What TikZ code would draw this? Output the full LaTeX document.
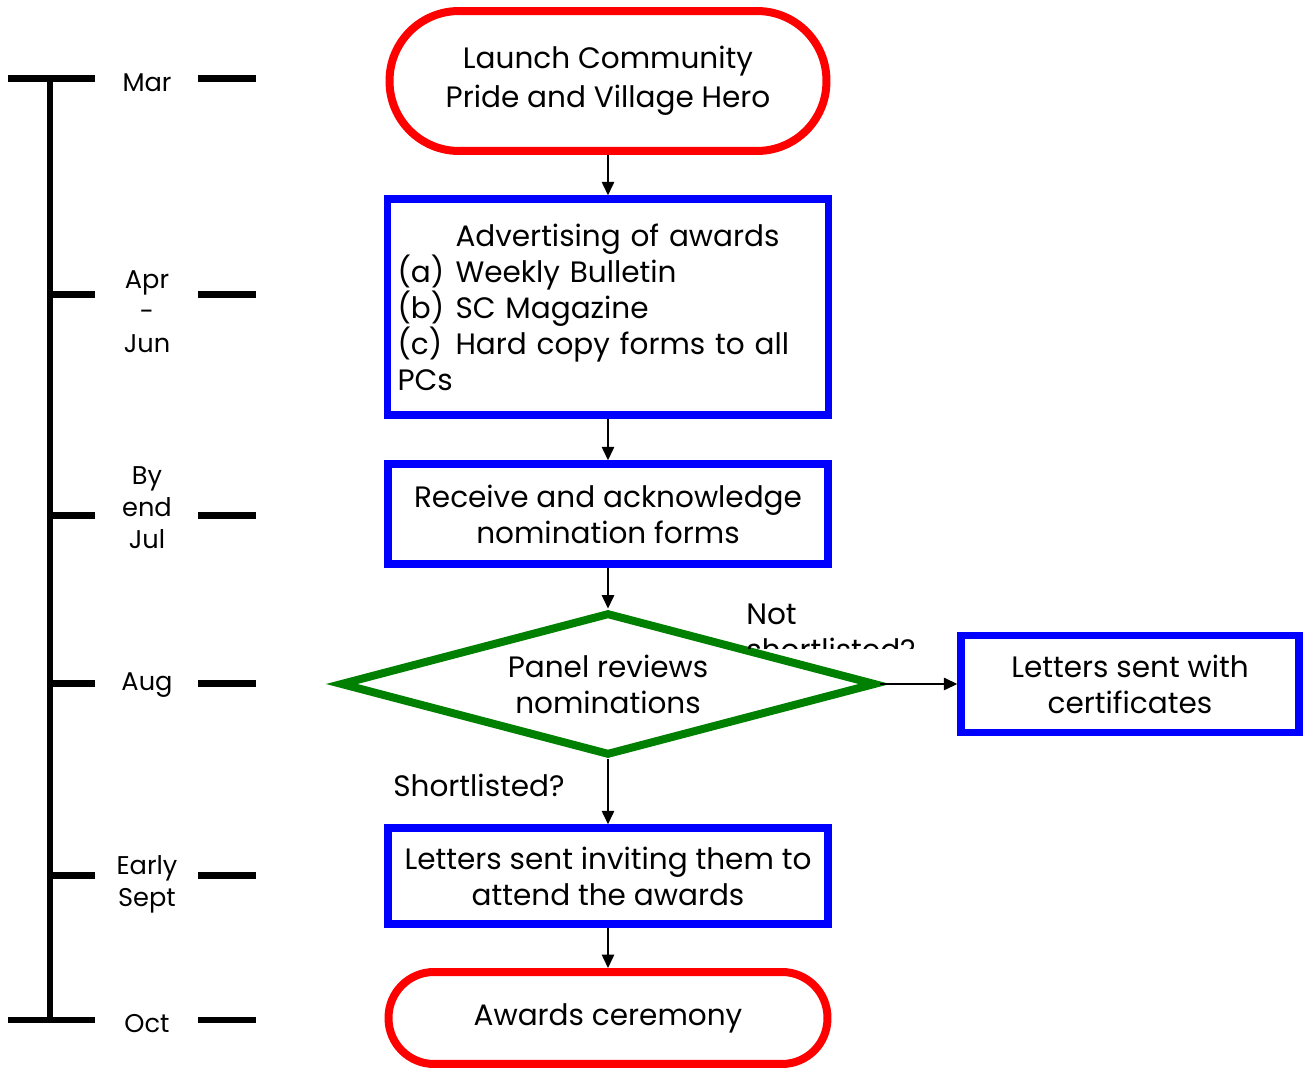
\documentclass[tikz,border=0pt]{standalone}
\usepackage{fontspec}
\setmainfont{Poppins}
\usetikzlibrary{shapes.geometric,arrows.meta}

\definecolor{termred}{RGB}{255,0,0}
\definecolor{boxblue}{RGB}{0,0,255}
\definecolor{panelgreen}{RGB}{0,128,0}

\newcommand\flowfont{\fontsize{16.8}{20.5}\selectfont}
\newcommand\monthfont{\fontsize{14.6}{18.2}\selectfont}
\newcommand\itemtag[1]{\makebox[1.16cm][l]{#1}}

\tikzset{
  terminal/.style={draw=termred, line width=0.16cm, fill=white, align=center, font=\flowfont},
  process/.style={draw=boxblue, line width=0.15cm, fill=white, align=center, font=\flowfont},
  decision/.style={diamond, draw=panelgreen, line width=0.16cm, fill=white, shape aspect=3.75,
    minimum width=10.72cm, minimum height=2.86cm, inner sep=0pt, align=center, font=\flowfont},
  month/.style={align=center, font=\monthfont, inner sep=0pt},
  flowline/.style={line width=0.03cm, -{Triangle[length=0.27cm,width=0.25cm]}},
  tick/.style={line width=0.14cm}
}

\begin{document}
\begin{tikzpicture}[x=0.02cm, y=-0.02cm]
    \useasboundingbox (0,0) rectangle (1306,1070);

    % Timeline
    \draw[tick] (50,79) -- (50,1020);
    \foreach \y in {79,1020}
        \draw[tick] (8,\y) -- (95,\y);
    \foreach \y in {295,516,684,876}
        \draw[tick] (50,\y) -- (95,\y);
    \foreach \y in {79,295,516,684,876,1020}
        \draw[tick] (198,\y) -- (256,\y);

    % Month labels
    \node[month] (mar) at (147,83) {Mar};
    \node[month] (aprjun) at (147,312) {Apr\\-\\Jun};
    \node[month] (jul) at (147,508) {By\\end\\Jul};
    \node[month] (aug) at (147,685) {Aug};
    \node[month] (sept) at (147,884) {Early\\Sept};
    \node[month] (oct) at (147,1024) {Oct};

    % Flow chart
    \node[terminal, minimum width=8.74cm, minimum height=2.8cm, rounded corners=1.39cm] (launch) at (608,81)
        {Launch Community\\[1.5pt]Pride and Village Hero};
    \node[process, minimum width=8.82cm, minimum height=4.32cm, text width=8.42cm, align=left] (advert) at (608,307)
        {\hspace*{1.16cm}Advertising of awards\\
         \itemtag{(a)}Weekly Bulletin\\
         \itemtag{(b)}SC Magazine\\
         \itemtag{(c)}Hard copy forms to all\\
         PCs\\[-4pt]};
    \node[process, minimum width=8.8cm, minimum height=2cm] (receive) at (608,514)
        {Receive and acknowledge\\nomination forms};
    \node[decision] (panel) at (608,684) {Panel reviews\\nominations};
    \node[process, minimum width=6.76cm, minimum height=1.94cm] (certs) at (1130,684)
        {Letters sent with\\certificates};
    \node[process, minimum width=8.8cm, minimum height=1.92cm] (invite) at (608,876)
        {Letters sent inviting them to\\attend the awards};
    \node[terminal, minimum width=8.78cm, minimum height=1.84cm, rounded corners=0.91cm] (ceremony) at (608,1018)
        {Awards ceremony};

    % Branch labels
    \node[font=\flowfont] (short) at (479,785) {Shortlisted?};
    \begin{scope}
        \clip (700,590) rectangle (960,649);
        \node[anchor=north west, align=left, font=\flowfont, inner sep=0pt] (notshort) at (746,604) {Not\\shortlisted?};
    \end{scope}

    % Connectors
    \draw[flowline] (launch) -- (advert);
    \draw[flowline] (advert) -- (receive);
    \draw[flowline] (receive) -- (panel);
    \draw[flowline] (panel) -- (certs);
    \draw[flowline] (panel) -- (invite);
    \draw[flowline] (invite) -- (ceremony);
\end{tikzpicture}
\end{document}
